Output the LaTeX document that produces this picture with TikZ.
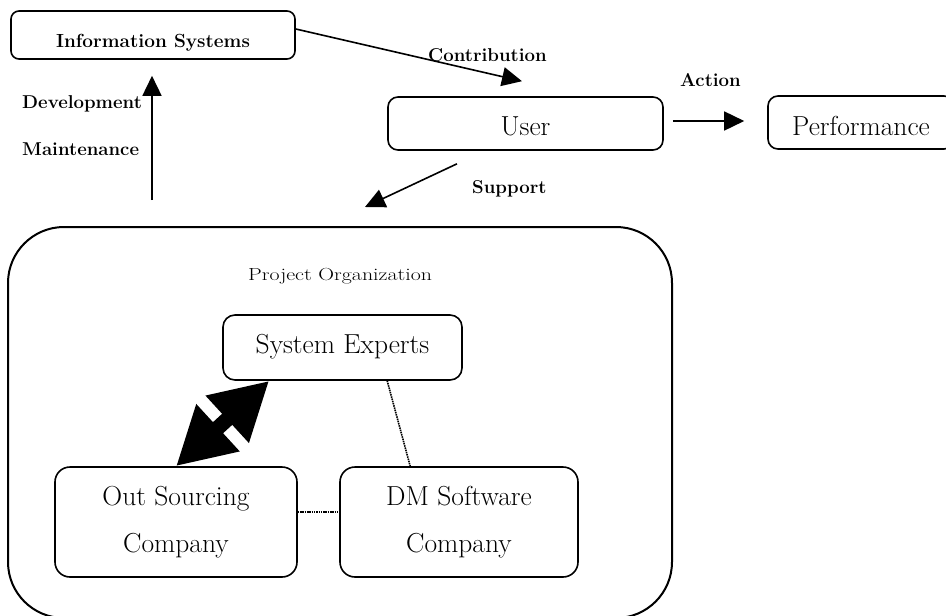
\documentclass[tikz,border=0pt]{standalone}
\usetikzlibrary{arrows.meta,calc}
\begin{document}
\begin{tikzpicture}[x=1pt,y=-1pt,
  box/.style={draw, line width=1.6pt, rounded corners=#1, inner xsep=0pt, inner ysep=0pt, align=center},
  box/.default=10pt,
  lbl/.style={font=\fontsize{18.6}{20}\selectfont\bfseries, inner sep=0pt, anchor=base west},
  big/.style={font=\fontsize{27.5}{30}\selectfont},
  two/.style={font=\fontsize{27.5}{47}\selectfont},
  arr/.style={line width=1.6pt, -{Triangle[length=20pt,width=19pt]}},
  dbl/.style={line width=15pt, {Triangle[length=57pt,width=60pt]}-{Triangle[length=57pt,width=60pt]}},
  dots/.style={line width=1.6pt, dash pattern=on 1.5pt off 0.8pt},
]
\useasboundingbox (0,0) rectangle (946,616);

% container
\node[draw, line width=2pt, rounded corners=56pt, minimum width=664pt, minimum height=391pt, inner sep=0pt] (proj) at (340,422.5) {};
\node[font=\fontsize{17.5}{20}\selectfont, inner sep=0pt, anchor=base west] (projlbl) at (248,280) {\scalebox{1.25}[1]{Project Organization}};

% boxes
\node[box=8pt, minimum width=284pt, text height=36pt, text depth=12pt, font=\fontsize{19}{20}\selectfont\bfseries] (is) at (153,35) {Information Systems};
\node[box=10pt, big, minimum width=275pt, text height=38pt, text depth=15pt] (user) at (525.5,123.5) {User};
\node[box=10pt, big, minimum width=186pt, text height=39pt, text depth=14pt] (perf) at (861,122.5) {Performance};
\node[box=12pt, big, minimum width=239pt, text height=38pt, text depth=27pt] (se) at (342.5,347.5) {System Experts};
\node[box=15pt, two, minimum width=242pt, minimum height=110pt] (osc) at (176,522) {Out Sourcing\\Company};
\node[box=15pt, two, minimum width=238pt, minimum height=110pt] (dm) at (459,522) {DM Software\\Company};

% labels
\node[lbl] (dev) at (22,108) {Development};
\node[lbl] (mnt) at (22,155) {Maintenance};
\node[lbl] (con) at (428,61) {Contribution};
\node[lbl] (act) at (680,86) {Action};
\node[lbl] (sup) at (472,193) {Support};

% connectors
\coordinate (devfoot) at (152,200);
\coordinate (suptip) at (365,207);
\draw[arr] (devfoot) -- ($(is.south)+(-1,16)$);
\draw[arr] ($(is.east)+(0,-6)$) -- ($(user.north)+(-3.5,-15)$);
\draw[arr] ($(user.east)+(9,-2.5)$) -- ($(perf.west)+(-23,-1.5)$);
\draw[arr] ($(user.south)+(-68.5,13)$) -- (suptip);

\draw[dbl] ($(se.south west)+(47,0)$) -- (osc.north);
\draw[dots] ($(se.south west)+(165,0)$) -- ($(dm.north west)+(71,0)$);
\draw[dots] ($(osc.east)+(0,-10)$) -- ($(dm.west)+(0,-10)$);
\end{tikzpicture}
\end{document}
